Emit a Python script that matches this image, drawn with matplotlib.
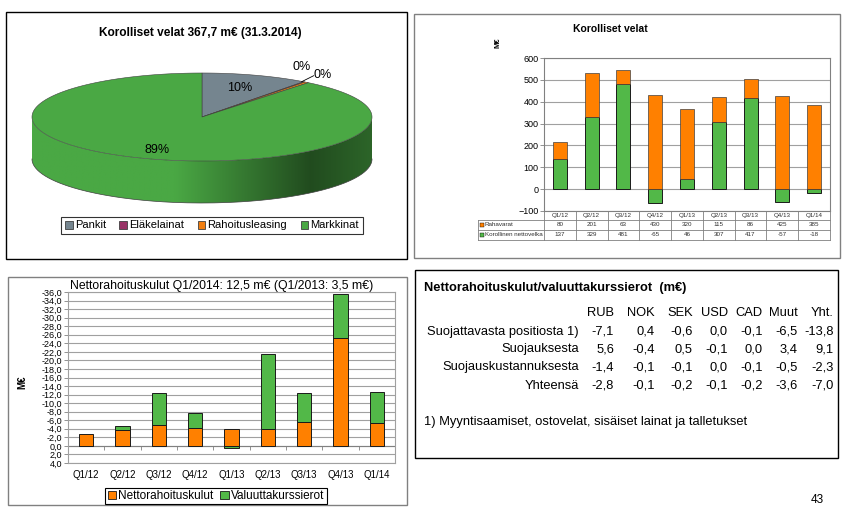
import numpy as np
import matplotlib
matplotlib.use('Agg')
import matplotlib.pyplot as plt
from matplotlib.patches import Rectangle, Polygon
from matplotlib.colors import to_rgb

plt.rcParams['font.family'] = ['Liberation Sans', 'DejaVu Sans']

W, H = 845, 526

# --- pie: korolliset velat 31.3.2014 (m€)
pie_labels = ['Pankit', 'Eläkelainat', 'Rahoitusleasing', 'Markkinat']
pie_values = [37.5, 0.6, 1.5, 328.1]
pie_colors = ['#75858f', '#993366', '#f07d0f', '#4aa844']

# --- quarterly bars
quarters = ['Q1/12', 'Q2/12', 'Q3/12', 'Q4/12', 'Q1/13', 'Q2/13', 'Q3/13', 'Q4/13', 'Q1/14']
rahavarat = [80, 201, 63, 430, 320, 115, 86, 425, 385]
nettovelka = [137, 329, 481, -65, 46, 307, 417, -57, -18]

nettorahoitus = [-2.7, -3.8, -4.8, -4.2, -3.9, -3.9, -5.5, -25.3, -5.4]
valuutta = [0.0, -0.8, -7.5, -3.4, 0.4, -17.5, -6.8, -10.2, -7.1]

# --- currency table
fx_cols = ['RUB', 'NOK', 'SEK', 'USD', 'CAD', 'Muut', 'Yht.']
fx_rows = ['Suojattavasta positiosta 1)', 'Suojauksesta', 'Suojauskustannuksesta', 'Yhteensä']
fx_values = [
    [-7.1, 0.4, -0.6, 0.0, -0.1, -6.5, -13.8],
    [5.6, -0.4, 0.5, -0.1, 0.0, 3.4, 9.1],
    [-1.4, -0.1, -0.1, 0.0, -0.1, -0.5, -2.3],
    [-2.8, -0.1, -0.2, -0.1, -0.2, -3.6, -7.0],
]
fx_note = '1) Myyntisaamiset, ostovelat, sisäiset lainat ja talletukset'

ORANGE = '#ff8000'
GREEN = '#52b848'
EDGE = '#1a1a1a'


def fi(v):
    return f'{v:.1f}'.replace('.', ',')


fig = plt.figure(figsize=(W / 100, H / 100), dpi=100)
bg = fig.add_axes([0, 0, 1, 1])
bg.set_xlim(0, W)
bg.set_ylim(H, 0)
bg.axis('off')


def px_axes(x0, y0, x1, y1):
    return fig.add_axes([x0 / W, 1 - y1 / H, (x1 - x0) / W, (y1 - y0) / H])


# frames
bg.add_patch(Rectangle((6, 12), 401, 247, fill=False, ec='black', lw=1))
bg.add_patch(Rectangle((414, 14), 426, 244, fill=False, ec='#808080', lw=1))
bg.add_patch(Rectangle((8, 277), 399, 228, fill=False, ec='#808080', lw=1))
bg.add_patch(Rectangle((415, 270), 423, 188, fill=False, ec='black', lw=1))

# ---------------- 3D pie ----------------
cx, cy, rx, ry, depth = 202, 117, 170, 44, 42


def ell(theta):
    t = np.radians(theta)
    return cx + rx * np.cos(t), cy - ry * np.sin(t)


fracs = np.array(pie_values) / sum(pie_values)
starts = 90 - 360 * np.concatenate([[0], np.cumsum(fracs)[:-1]])
ends = starts - 360 * fracs

# horizontal lighting of the side wall
gx = np.linspace(0, 1, 400)
light = np.interp(gx, [0, 0.42, 0.82, 1.0], [1.0, 1.0, 0.45, 0.6])

for s, e, c in zip(starts, ends, pie_colors):
    th = np.linspace(s, e, max(int(abs(s - e)) * 2, 4) + 1)
    vis = np.sin(np.radians(th)) < 0
    if not vis.any():
        continue
    idx = np.where(vis)[0]
    runs = np.split(idx, np.where(np.diff(idx) > 1)[0] + 1)
    img = np.clip(np.array(to_rgb(c))[None, None, :] * light[None, :, None], 0, 1)
    for run in runs:
        xs, ys = ell(th[run])
        pts = list(zip(xs, ys)) + list(zip(xs[::-1], ys[::-1] + depth))
        clip = Polygon(pts, closed=True, fc='none', ec='none')
        bg.add_patch(clip)
        im = bg.imshow(img, extent=(cx - rx, cx + rx, cy + ry + depth + 1, cy - ry),
                       aspect='auto', interpolation='bilinear', zorder=2)
        im.set_clip_path(clip)
bg.set_xlim(0, W)
bg.set_ylim(H, 0)

arc = np.linspace(180, 360, 200)
ax_, ay_ = ell(arc)
bg.plot(ax_, ay_ + depth, color='#404040', lw=0.5, zorder=3)

# top surface
for s, e, c in zip(starts, ends, pie_colors):
    th = np.linspace(s, e, max(int(abs(s - e)), 2) + 1)
    xs, ys = ell(th)
    pts = [(cx, cy)] + list(zip(xs, ys))
    bg.add_patch(Polygon(pts, closed=True, fc=c, ec='#404040', lw=0.4, zorder=4))

# percentage labels
pct = [f'{round(f * 100):.0f}%' for f in fracs]
for i in (0, 3):
    mid = (starts[i] + ends[i]) / 2
    t = np.radians(mid)
    f = 0.7 if i == 0 else 0.8
    bg.text(cx + f * rx * np.cos(t), cy - f * ry * np.sin(t), pct[i],
            ha='center', va='center', fontsize=9, zorder=5)
ex, ey = ell(ends[0])
bg.text(ex - 2, ey - 15, pct[1], ha='center', va='center', fontsize=9, zorder=5)
bg.plot([ex - 2, ex + 10], [ey, ey - 6], color='black', lw=0.6, zorder=5)
bg.text(ex + 19, ey - 7, pct[2], ha='center', va='center', fontsize=9, zorder=5)

bg.text(200, 33, 'Korolliset velat 367,7 m€ (31.3.2014)', ha='center', va='center',
        fontsize=8.6, fontweight='bold')

handles = [Rectangle((0, 0), 1, 1, fc=c, ec='#404040', lw=0.6) for c in pie_colors]
leg = bg.legend(handles, pie_labels, loc='center', bbox_to_anchor=(212 / W, 1 - 225.5 / H),
                bbox_transform=fig.transFigure, ncol=4, fontsize=8, frameon=True,
                fancybox=False, edgecolor='black', handlelength=0.7, handleheight=0.7,
                handletextpad=0.2, columnspacing=1.2, borderpad=0.35)
leg.get_frame().set_linewidth(0.8)

# ---------------- top right: korolliset velat bars ----------------
ax1 = px_axes(544, 58, 830, 211)
x = np.arange(len(quarters))
ax1.bar(x, nettovelka, width=0.44, color=GREEN, edgecolor=EDGE, lw=0.7, zorder=3)
ax1.bar(x, rahavarat, width=0.44, bottom=np.maximum(nettovelka, 0), color=ORANGE,
        edgecolor='#404040', lw=0.5, zorder=3)
ax1.set_xlim(-0.5, 8.5)
ax1.set_ylim(-100, 600)
ax1.set_yticks(range(-100, 601, 100))
ax1.yaxis.grid(True, color='#a0a0a0', lw=0.8)
ax1.set_axisbelow(True)
ax1.set_xticks([])
ax1.tick_params(axis='y', labelsize=6.5, length=3, width=0.6, color='#808080', pad=1)
for sp in ax1.spines.values():
    sp.set_color('#808080')
ax1.set_ylabel('M€', fontsize=5.5, fontweight='bold')
ax1.yaxis.set_label_coords(-0.147, 1.1)
bg.text(610, 29, 'Korolliset velat', fontsize=7.5, fontweight='bold', ha='center', va='center')

# data table under the chart
tr = ax1.get_xaxis_transform()
axh = 153.0
rows_y = [0, -9 / axh, -19 / axh, -29 / axh]
xleft = -0.5 - 66 * 9 / 286
tcol = '#808080'
kw = dict(transform=tr, clip_on=False, color=tcol, lw=0.6)
ax1.plot([xleft, 8.5], [rows_y[1]] * 2, **kw)
ax1.plot([xleft, 8.5], [rows_y[2]] * 2, **kw)
ax1.plot([xleft, 8.5], [rows_y[3]] * 2, **kw)
ax1.plot([xleft, xleft], [rows_y[1], rows_y[3]], **kw)
for b in np.arange(-0.5, 9, 1):
    ax1.plot([b, b], [0, rows_y[3]], **kw)
for i, q in enumerate(quarters):
    ax1.text(i, (rows_y[0] + rows_y[1]) / 2, q, transform=tr, ha='center', va='center',
             fontsize=4.5, color='#303030')
    ax1.text(i, (rows_y[1] + rows_y[2]) / 2, str(rahavarat[i]), transform=tr, ha='center',
             va='center', fontsize=4.5, color='#303030')
    ax1.text(i, (rows_y[2] + rows_y[3]) / 2, str(nettovelka[i]), transform=tr, ha='center',
             va='center', fontsize=4.5, color='#303030')
for r, (name, c) in enumerate([('Rahavarat', ORANGE), ('Korollinen nettovelka', GREEN)]):
    ym = (rows_y[r + 1] + rows_y[r + 2]) / 2
    ax1.plot([xleft + 0.12], [ym], marker='s', ms=2.3, mfc=c, mec='black', mew=0.3,
             transform=tr, clip_on=False)
    ax1.text(xleft + 0.22, ym, name, transform=tr, ha='left', va='center', fontsize=4.5,
             color='#303030')

# ---------------- bottom left: nettorahoituskulut ----------------
ax2 = px_axes(68, 292, 395, 463)
ax2.bar(x, nettorahoitus, width=0.4, color=ORANGE, edgecolor=EDGE, lw=0.7, zorder=3)
fx_bottom = [n if np.sign(v) == np.sign(n) else 0 for n, v in zip(nettorahoitus, valuutta)]
ax2.bar(x, valuutta, width=0.4, bottom=fx_bottom, color=GREEN, edgecolor=EDGE, lw=0.7,
        zorder=3)
ax2.set_xlim(-0.5, 8.5)
ax2.set_ylim(4, -36)
yt = np.arange(-36, 5, 2)
ax2.set_yticks(yt)
ax2.set_yticklabels([fi(v) for v in yt])
ax2.yaxis.grid(True, color='#a0a0a0', lw=0.8)
ax2.set_axisbelow(True)
ax2.set_xticks(x)
ax2.set_xticklabels(quarters)
ax2.tick_params(axis='x', labelsize=7, length=0, pad=5)
ax2.tick_params(axis='y', labelsize=6.5, length=3, width=0.6, color='#808080', pad=1)
for sp in ax2.spines.values():
    sp.set_color('#a0a0a0')
ax2.axhline(0, color='#808080', lw=0.8, zorder=2)
ax2.vlines(np.arange(-0.5, 9, 1), 0, 0.9, color='#808080', lw=0.6)
ax2.set_ylabel('M€', fontsize=7, fontweight='bold')
ax2.yaxis.set_label_coords(-0.125, 0.47)
ax2.set_title('Nettorahoituskulut Q1/2014: 12,5 m€ (Q1/2013: 3,5 m€)', fontsize=8.8, pad=1,
              x=0.47)

h2 = [Rectangle((0, 0), 1, 1, fc=c, ec=EDGE, lw=0.6) for c in (ORANGE, GREEN)]
leg2 = ax2.legend(h2, ['Nettorahoituskulut', 'Valuuttakurssierot'], loc='center',
                  bbox_to_anchor=(216 / W, 1 - 496 / H), bbox_transform=fig.transFigure,
                  ncol=2, fontsize=8.5, fancybox=False, edgecolor='black',
                  handlelength=0.7, handleheight=0.7, handletextpad=0.2,
                  columnspacing=0.6, borderpad=0.2, framealpha=1)
leg2.get_frame().set_linewidth(0.8)

# ---------------- bottom right: currency table ----------------
FS = 9.3
bg.text(424, 288, 'Nettorahoituskulut/valuuttakurssierot  (m€)', fontsize=FS,
        fontweight='bold', ha='left', va='center')
col_right = [614, 655, 693, 728, 763, 798, 834]
row_y = [332, 349, 367, 386]
for cx_, name in zip(col_right, fx_cols):
    bg.text(cx_, 313, name, fontsize=FS, ha='right', va='center')
for ry_, name, vals in zip(row_y, fx_rows, fx_values):
    bg.text(579, ry_, name, fontsize=FS, ha='right', va='center')
    for cx_, v in zip(col_right, vals):
        bg.text(cx_, ry_, fi(v), fontsize=FS, ha='right', va='center')
bg.text(424, 422, fx_note, fontsize=FS, ha='left', va='center')

bg.text(817, 500, '43', fontsize=8.5, ha='center', va='center')

fig.savefig('out.png', dpi=100)
